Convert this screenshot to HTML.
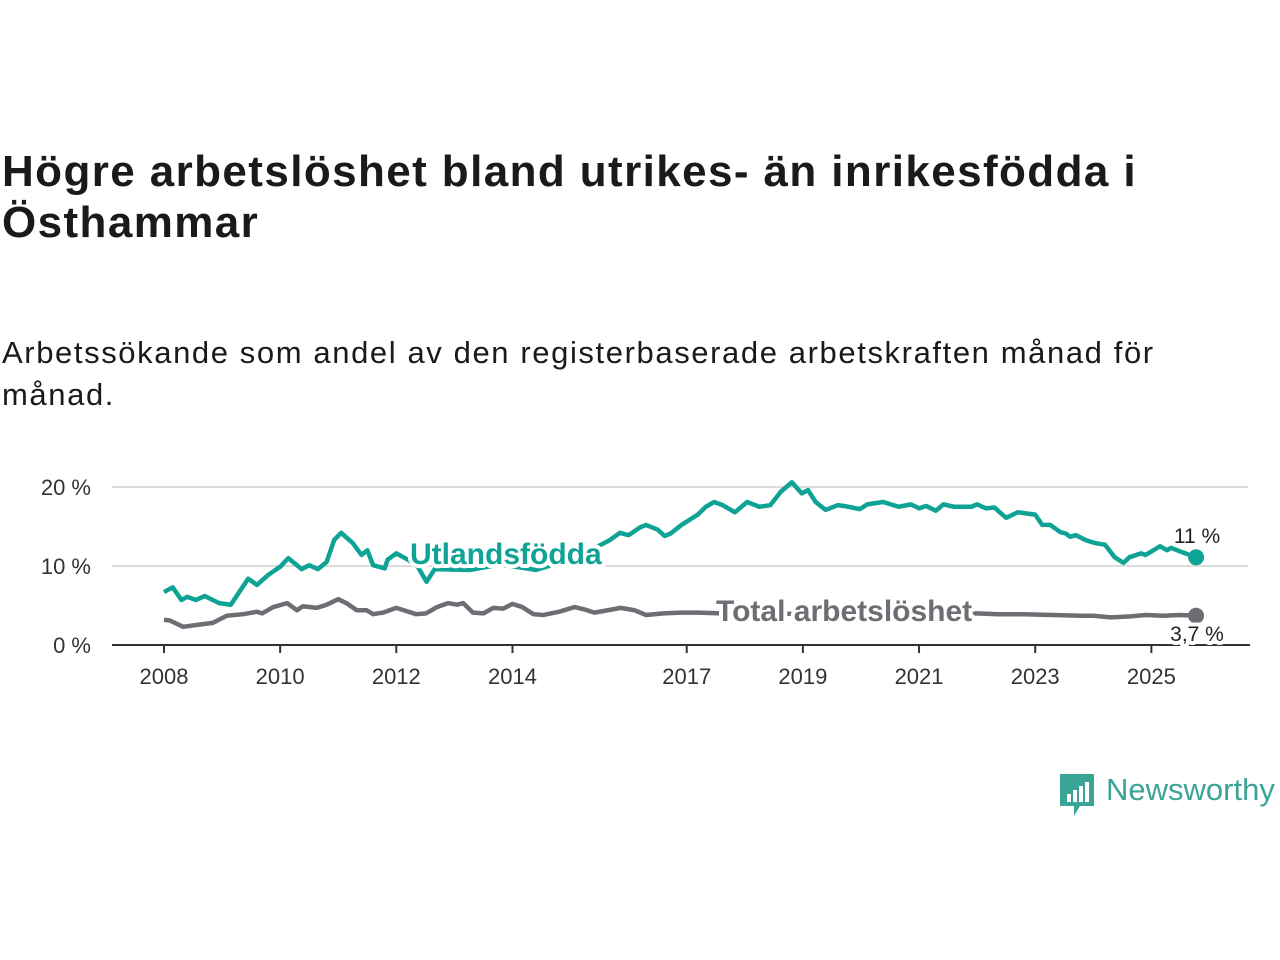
<!DOCTYPE html>
<html><head><meta charset="utf-8">
<style>
body{margin:0;width:1280px;height:960px;background:#fff;overflow:hidden;font-family:"Liberation Sans",sans-serif;}
h1{position:absolute;left:2px;top:146px;margin:0;font-size:44px;line-height:51px;font-weight:bold;color:#1a1a1a;width:1160px;letter-spacing:1.4px}
.sub{position:absolute;left:2px;top:332px;margin:0;font-size:31px;line-height:42px;color:#1a1a1a;width:1178px;letter-spacing:1.6px}
svg{position:absolute;left:0;top:0}
</style></head><body>
<h1>Högre arbetslöshet bland utrikes- än inrikesfödda i Östhammar</h1>
<p class="sub">Arbetssökande som andel av den registerbaserade arbetskraften månad för månad.</p>
<svg id="chart" width="1280" height="960"></svg>
<script>
const yTicks=[0,10,20];
const xTicks=[2008,2010,2012,2014,2017,2019,2021,2023,2025];
const foreignDates=[2008.0,2008.15,2008.3,2008.4,2008.55,2008.7,2008.95,2009.15,2009.45,2009.6,2009.8,2010.0,2010.14,2010.37,2010.5,2010.65,2010.8,2010.93,2011.05,2011.25,2011.4,2011.5,2011.6,2011.8,2011.85,2012.0,2012.2,2012.37,2012.52,2012.66,2013.27,2013.8,2014.4,2014.9,2015.3,2015.68,2015.85,2016.0,2016.2,2016.3,2016.5,2016.62,2016.72,2016.91,2017.19,2017.33,2017.47,2017.62,2017.83,2018.04,2018.25,2018.44,2018.62,2018.81,2018.98,2019.09,2019.22,2019.39,2019.6,2019.71,2019.98,2020.11,2020.38,2020.65,2020.86,2021.0,2021.12,2021.29,2021.42,2021.6,2021.9,2022.0,2022.15,2022.3,2022.39,2022.5,2022.7,2022.9,2023.0,2023.12,2023.26,2023.43,2023.53,2023.6,2023.7,2023.86,2024.03,2024.2,2024.37,2024.52,2024.62,2024.82,2024.9,2025.15,2025.27,2025.34,2025.51,2025.77];
const foreignVals=[6.7,7.3,5.7,6.1,5.7,6.2,5.3,5.1,8.4,7.6,8.9,9.9,11.0,9.6,10.1,9.6,10.5,13.3,14.2,12.9,11.4,12.0,10.1,9.7,10.8,11.6,10.8,9.9,8.0,9.6,9.5,10.2,9.5,10.6,11.8,13.3,14.2,13.9,14.9,15.2,14.6,13.8,14.1,15.2,16.5,17.5,18.1,17.7,16.8,18.1,17.5,17.7,19.4,20.6,19.2,19.6,18.1,17.1,17.7,17.6,17.2,17.8,18.1,17.5,17.8,17.3,17.6,17.0,17.8,17.5,17.5,17.8,17.3,17.4,16.8,16.1,16.8,16.6,16.5,15.2,15.2,14.3,14.1,13.7,13.9,13.3,12.9,12.7,11.1,10.4,11.1,11.6,11.4,12.5,12.0,12.3,11.8,11.1];
const totalDates=[2008.0,2008.1,2008.33,2008.62,2008.84,2009.08,2009.36,2009.6,2009.69,2009.88,2010.12,2010.29,2010.39,2010.63,2010.8,2011.0,2011.14,2011.32,2011.49,2011.6,2011.77,2012.0,2012.17,2012.34,2012.51,2012.7,2012.89,2013.05,2013.15,2013.32,2013.5,2013.67,2013.84,2014.0,2014.17,2014.36,2014.53,2014.8,2015.07,2015.24,2015.41,2015.64,2015.86,2016.1,2016.3,2016.6,2016.9,2017.2,2017.6,2018.0,2018.5,2019.0,2019.5,2020.0,2020.5,2021.0,2021.5,2022.0,2022.36,2022.8,2023.3,2023.8,2024.0,2024.3,2024.6,2024.9,2025.2,2025.48,2025.77];
const totalVals=[3.2,3.1,2.3,2.6,2.8,3.7,3.9,4.2,4.0,4.8,5.3,4.4,4.9,4.7,5.1,5.8,5.3,4.4,4.4,3.9,4.1,4.7,4.3,3.9,4.0,4.8,5.3,5.1,5.3,4.1,4.0,4.7,4.6,5.2,4.8,3.9,3.8,4.2,4.8,4.5,4.1,4.4,4.7,4.4,3.8,4.0,4.1,4.1,4.0,4.1,4.0,3.9,4.0,4.0,4.1,4.0,3.9,4.0,3.9,3.9,3.8,3.7,3.7,3.5,3.6,3.8,3.7,3.8,3.7];

const svg=document.getElementById('chart');
const NS='http://www.w3.org/2000/svg';
const x=v=>164+(v-2008)*58.08;
const y=v=>645-v*7.9;
function mk(t,a,p){const e=document.createElementNS(NS,t);for(const k in a)e.setAttribute(k,a[k]);(p||svg).appendChild(e);return e;}

yTicks.forEach(t=>{
  if(t>0){const g=mk('line',{x1:112,x2:1248,y1:y(t),y2:y(t),stroke:'#dcdcdc','stroke-width':2});
  
  }
  const l=mk('text',{x:91,y:y(t)+8,'text-anchor':'end','font-size':22,fill:'#333','font-family':'Liberation Sans, sans-serif'});
  l.textContent=t+' %';
  
  
});
const ax=mk('line',{x1:112,x2:1250,y1:645,y2:645,stroke:'#333','stroke-width':2});


xTicks.forEach(t=>{
  const tk=mk('line',{x1:x(t),x2:x(t),y1:645,y2:653,stroke:'#333','stroke-width':2});
  
  
  const l=mk('text',{x:x(t),y:684,'text-anchor':'middle','font-size':22,fill:'#333','font-family':'Liberation Sans, sans-serif'});
  l.textContent=t;
  
  
});
function line(d,v,c,name){
  const p=mk('polyline',{points:d.map((a,i)=>x(a)+','+y(v[i])).join(' '),fill:'none',stroke:c,'stroke-width':4.5,'stroke-linejoin':'round'});
  
  
  const dt=mk('circle',{cx:x(d[d.length-1]),cy:y(v[v.length-1]),r:8,fill:c});
  
  
}
line(totalDates,totalVals,'#6e6d73','total-line');
line(foreignDates,foreignVals,'#0ea394','foreign-born-line');
function lab(txt,xx,yy,c,sz,bold,anchor,name){
  const t=mk('text',{x:xx,y:yy,fill:c,'font-size':sz,'font-weight':bold?'bold':'normal','text-anchor':anchor,'font-family':'Liberation Sans, sans-serif',stroke:'#fff','stroke-width':8,'paint-order':'stroke','stroke-linejoin':'round'});
  t.textContent=txt;
  
  
}
lab('Utlandsfödda',410,564,'#0ea394',30,true,'start','foreign-born-label');
lab('Total arbetslöshet',716,621,'#6e6d73',30,true,'start','total-label');
lab('11 %',1197,543,'#222',21,false,'middle','foreign-end-value');
lab('3,7 %',1197,641,'#222',21,false,'middle','total-end-value');
</script>
<div style="position:absolute;left:1060px;top:774px;width:220px;height:44px;">
<svg width="36" height="44" style="position:absolute;left:0;top:0"><path d="M0 0H34V32H20L14 42V32H0Z" fill="#3aa497"/><rect x="7" y="20" width="4" height="8" fill="#fff"/><rect x="13" y="16" width="4" height="12" fill="#fff"/><rect x="19" y="12" width="4" height="16" fill="#fff"/><rect x="25" y="8" width="4" height="20" fill="#fff"/></svg>
<span style="position:absolute;left:46px;top:-2px;font-size:31px;color:#3aa497;">Newsworthy</span>
</div>
</body></html>
